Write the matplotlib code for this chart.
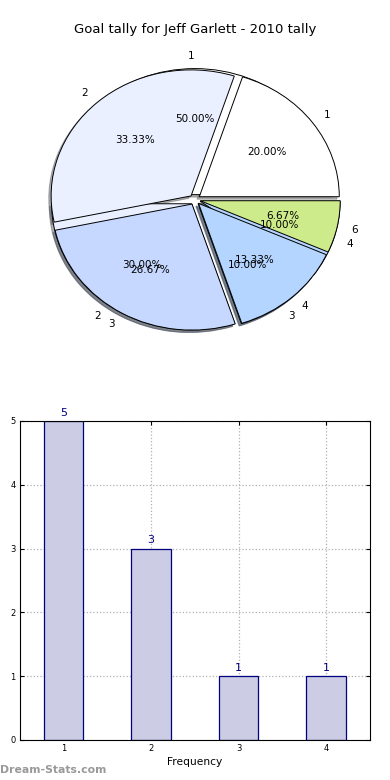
import matplotlib
matplotlib.use('Agg')
import matplotlib.pyplot as plt

# goal tally data
tally_labels = ['1', '2', '3', '4', '6']
tally_values = [3, 5, 4, 2, 1]
freq_labels = ['1', '2', '3', '4']
freq_values = [5, 3, 1, 1]

pie_colors = ['#ffffff', '#eaf0ff', '#c6d8ff', '#b3d5ff', '#cdeb8b']

fig = plt.figure(figsize=(3.9, 7.8), dpi=100)

fig.text(0.5, 1 - 30/780., 'Goal tally for Jeff Garlett - 2010 tally',
         ha='center', va='center', fontsize=9.5)

shadow = {'ox': -0.012, 'oy': -0.014, 'shade': 0.6}
ax1 = fig.add_axes([0.051, 0.542, 0.897, 0.404])
ax1.pie(freq_values, labels=freq_labels, colors=pie_colors[:4], autopct='%1.2f%%',
        explode=[0.04]*4, shadow=shadow, startangle=0,
        wedgeprops={'edgecolor': 'black', 'linewidth': 0.7},
        textprops={'fontsize': 7.5})
ax1.pie(tally_values, labels=tally_labels, colors=pie_colors, autopct='%1.2f%%',
        explode=[0.04]*5, shadow=shadow, startangle=0,
        wedgeprops={'edgecolor': 'black', 'linewidth': 0.7},
        textprops={'fontsize': 7.5})
ax1.set_aspect('auto')
ax1.set_xlim(-1.25, 1.25)
ax1.set_ylim(-1.25, 1.25)

ax2 = fig.add_axes([0.051, 0.0513, 0.897, 0.409])
x = [int(v) for v in freq_labels]
bars = ax2.bar(x, freq_values, width=0.45, color='#ccccE4', edgecolor='#000080', linewidth=0.9, zorder=2)
for b, v in zip(bars, freq_values):
    ax2.text(b.get_x() + b.get_width()/2, v + 0.05, str(v), ha='center', va='bottom',
             color='#000080', fontsize=8)
ax2.set_xlim(0.5, 4.5)
ax2.set_ylim(0, 5)
ax2.set_xticks(x)
ax2.set_xticklabels(freq_labels)
ax2.set_yticks(range(6))
ax2.tick_params(labelsize=6, direction='in', top=True, right=True, length=3, pad=3)
ax2.grid(True, linestyle=':', color='#b0b0b0', linewidth=0.9, zorder=0)
ax2.set_axisbelow(True)
ax2.set_xlabel('Frequency', fontsize=7.7, labelpad=3)
ax2.set_ylabel('Stat Intervals', fontsize=7.7)
ax2.yaxis.set_label_coords(-0.049, 0.5)

fig.text(0.0, 1 - 770/780., 'Dream-Stats.com', ha='left', va='center',
         fontsize=7.8, fontweight='bold', color='#999999')

plt.savefig('out.png', dpi=100)
